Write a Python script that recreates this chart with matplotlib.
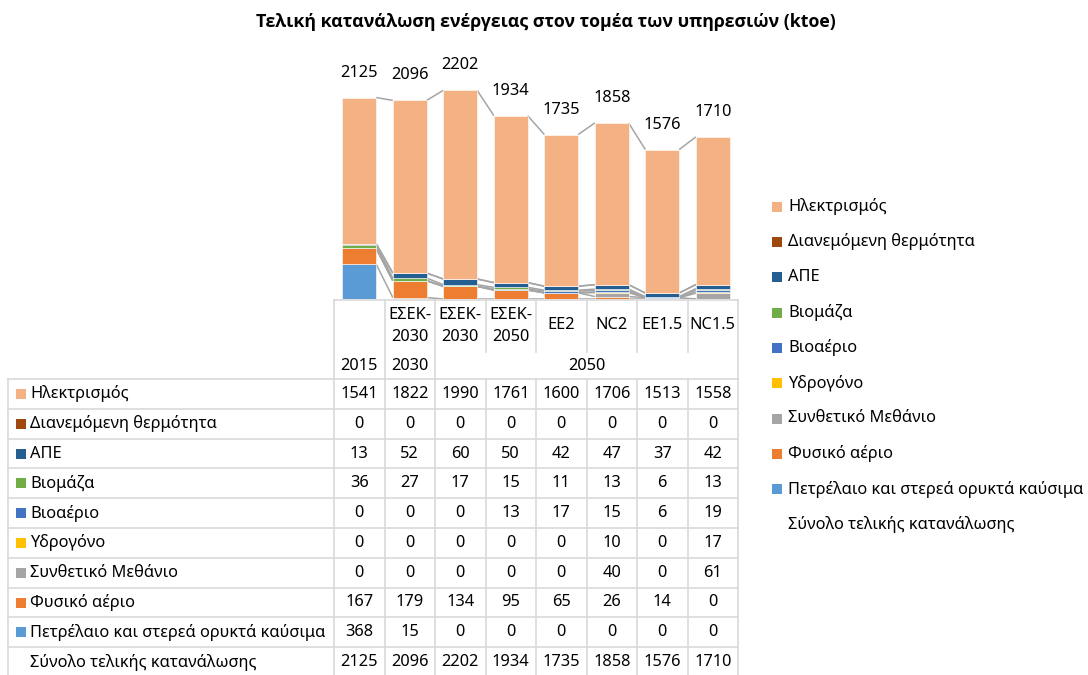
import matplotlib
matplotlib.use('Agg')
import matplotlib.pyplot as plt
from matplotlib.lines import Line2D
from matplotlib.patches import Rectangle
import numpy as np

plt.rcParams['font.family'] = ['Noto Sans', 'DejaVu Sans']

# ---------------- data ----------------
title = 'Τελική κατανάλωση ενέργειας στον τομέα των υπηρεσιών (ktoe)'
scenarios = ['', 'ΕΣΕΚ-\n2030', 'ΕΣΕΚ-\n2030', 'ΕΣΕΚ-\n2050', 'EE2', 'NC2', 'EE1.5', 'NC1.5']
years = ['2015', '2030', '2050']
year_first_col = [0, 1, 2]
year_last_col = [0, 1, 7]

# series in table / legend order (top to bottom)
series_names = ['Ηλεκτρισμός', 'Διανεμόμενη θερμότητα', 'ΑΠΕ', 'Βιομάζα', 'Βιοαέριο',
                'Υδρογόνο', 'Συνθετικό Μεθάνιο', 'Φυσικό αέριο',
                'Πετρέλαιο και στερεά ορυκτά καύσιμα']
electricity = [1541, 1822, 1990, 1761, 1600, 1706, 1513, 1558]
district_heat = [0, 0, 0, 0, 0, 0, 0, 0]
res = [13, 52, 60, 50, 42, 47, 37, 42]
biomass = [36, 27, 17, 15, 11, 13, 6, 13]
biogas = [0, 0, 0, 13, 17, 15, 6, 19]
hydrogen = [0, 0, 0, 0, 0, 10, 0, 17]
synth_methane = [0, 0, 0, 0, 0, 40, 0, 61]
natural_gas = [167, 179, 134, 95, 65, 26, 14, 0]
oil_solid = [368, 15, 0, 0, 0, 0, 0, 0]
total_name = 'Σύνολο τελικής κατανάλωσης'
total = [2125, 2096, 2202, 1934, 1735, 1858, 1576, 1710]

series_values = [electricity, district_heat, res, biomass, biogas,
                 hydrogen, synth_methane, natural_gas, oil_solid]
colors = ['#F4B183', '#9E480E', '#255E91', '#70AD47', '#4472C4',
          '#FFC000', '#A5A5A5', '#ED7D31', '#5B9BD5']

# ---------------- figure ----------------
W, H = 1088, 675
fig = plt.figure(figsize=(W / 100, H / 100), dpi=100)
fig.patch.set_facecolor('white')

def fx(px):
    return px / W

def fy(py):
    return 1 - py / H

FS = 11.8
TXT = '#000000'
GRID = '#D9D9D9'

ax = fig.add_axes([fx(334), fy(299), 404 / W, 237 / H])
ax.set_xlim(-0.5, 7.5)
ax.set_ylim(0, 2500)
ax.axis('off')

x = np.arange(len(total))
bw = 0.67
bottom = np.zeros(len(x))
cum_tops = []
for name, vals, col in list(zip(series_names, series_values, colors))[::-1]:
    v = np.array(vals, dtype=float)
    ax.bar(x, v, bottom=bottom, width=bw, color=col, edgecolor='white',
           linewidth=0.4, zorder=2)
    bottom = bottom + v
    cum_tops.append(bottom.copy())

# series lines
for top in cum_tops:
    for i in range(len(x) - 1):
        ax.plot([x[i] + bw / 2, x[i + 1] - bw / 2], [top[i], top[i + 1]],
                color='#A5A5A5', lw=1.1, zorder=1, solid_capstyle='butt')

# total line (invisible) with labels
ax.plot(x, total, linestyle='none')
for i, v in enumerate(total):
    ax.annotate(str(v), (x[i], v), xytext=(0, 18), textcoords='offset points',
                ha='center', va='center', fontsize=FS, color=TXT)

# title
fig.text(fx(546), fy(22), title, ha='center', va='center', fontsize=12.8,
         fontweight='bold', color=TXT, family=['Open Sans', 'DejaVu Sans'])

# ---------------- data table ----------------
fig.canvas.draw()
xe = [ax.transData.transform((e, 0))[0] for e in np.arange(-0.5, len(x))]
xc = [ax.transData.transform((c, 0))[0] for c in x]

def hline(y, x0, x1):
    fig.add_artist(Line2D([fx(x0), fx(x1)], [fy(y), fy(y)], color=GRID, lw=1.2,
                          transform=fig.transFigure))

def vline(xp, y0, y1):
    fig.add_artist(Line2D([fx(xp), fx(xp)], [fy(y0), fy(y1)], color=GRID, lw=1.2,
                          transform=fig.transFigure))

cat_top, cat_bot, yr_bot = 300, 352, 379
row_h = 29.8
left = 8

hline(cat_top, xe[0], xe[-1])
for e in xe:
    vline(e, cat_top, cat_bot)
for j in sorted(set([year_first_col[k] for k in range(len(years))] + [len(x)])):
    vline(xe[j], cat_bot, yr_bot)

rows = series_names + [total_name]
for r in range(len(rows) + 1):
    hline(yr_bot + r * row_h, left, xe[-1])
y_end = yr_bot + len(rows) * row_h
vline(left, yr_bot, y_end)
for e in xe:
    vline(e, yr_bot, y_end)

# category labels
for j, lab in enumerate(scenarios):
    if not lab:
        continue
    parts = lab.split('\n')
    if len(parts) == 1:
        fig.text(fx(xc[j]), fy(325), parts[0], ha='center', va='center',
                 fontsize=FS, color=TXT)
    else:
        for k, p in enumerate(parts):
            fig.text(fx(xc[j]), fy(315 + 21.5 * k), p, ha='center', va='center',
                     fontsize=FS, color=TXT)

for k, yl in enumerate(years):
    c = (xe[year_first_col[k]] + xe[year_last_col[k] + 1]) / 2
    fig.text(fx(c), fy(366), yl, ha='center', va='center', fontsize=FS, color=TXT)

all_values = series_values + [total]
for r, (name, vals) in enumerate(zip(rows, all_values)):
    yc = yr_bot + (r + 0.5) * row_h
    if r < len(colors):
        fig.add_artist(Rectangle((fx(16), fy(yc + 5)), 10 / W, 10 / H,
                                 transform=fig.transFigure, color=colors[r], lw=0))
    fig.text(fx(30.5), fy(yc), name, ha='left', va='center', fontsize=FS, color=TXT)
    for j, v in enumerate(vals):
        fig.text(fx(xc[j]), fy(yc), str(v), ha='center', va='center',
                 fontsize=FS, color=TXT)

# ---------------- legend ----------------
leg_names = series_names + [total_name]
for k, name in enumerate(leg_names):
    yc = 206.7 + 35.3 * k
    if k < len(colors):
        fig.add_artist(Rectangle((fx(772), fy(yc + 5)), 10 / W, 10 / H,
                                 transform=fig.transFigure, color=colors[k], lw=0))
    fig.text(fx(788), fy(yc), name, ha='left', va='center', fontsize=FS, color=TXT)

fig.savefig('out.png', dpi=100, facecolor='white')
